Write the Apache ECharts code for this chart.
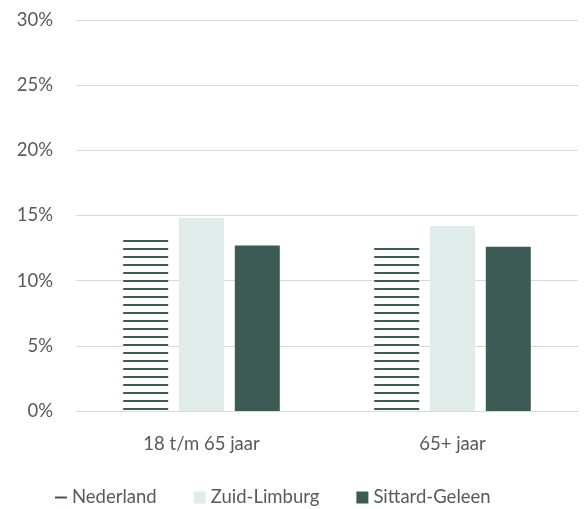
<!DOCTYPE html>
<html>
<head>
<meta charset="utf-8">
<script src="https://cdn.jsdelivr.net/npm/echarts@6/dist/echarts.min.js"></script>
<style>html,body{margin:0;padding:0;background:#fff}#c{width:586px;height:509px}</style>
</head>
<body>
<div id="c"></div>
<script>
const categories = ['18 t/m 65 jaar', '65+ jaar'];
const nederland = [13.2, 12.7];
const zuidLimburg = [14.8, 14.2];
const sittardGeleen = [12.7, 12.6];
const yTicks = [0, 5, 10, 15, 20, 25, 30];

const dark = '#3b5b54';
const light = '#e0ecea';
const textColor = '#595959';
const font = 'Lato';

const pc = document.createElement('canvas');
pc.width = 8; pc.height = 8;
const ctx = pc.getContext('2d');
ctx.fillStyle = '#ffffff'; ctx.fillRect(0, 0, 8, 8);
ctx.fillStyle = dark; ctx.fillRect(0, 0, 8, 2);

const chart = echarts.init(document.getElementById('c'), null, {renderer: 'canvas'});
chart.setOption({
  animation: false,
  textStyle: {fontFamily: font},
  grid: {left: 76, right: 8, top: 20, bottom: 98},
  legend: {
    top: 483,
    left: 50,
    itemGap: 37,
    itemWidth: 12,
    itemHeight: 12,
    textStyle: {color: textColor, fontSize: 18.5, fontFamily: font},
    data: [
      {name: 'Nederland', icon: 'path://M0,5 L12,5 L12,7 L0,7 Z', itemStyle: {color: dark}},
      {name: 'Zuid-Limburg', icon: 'rect'},
      {name: 'Sittard-Geleen', icon: 'rect'}
    ]
  },
  xAxis: {
    type: 'category',
    data: categories,
    axisTick: {show: false},
    axisLine: {lineStyle: {color: '#d9d9d9', width: 1}},
    axisLabel: {color: textColor, fontSize: 18.5, fontFamily: font, margin: 24}
  },
  yAxis: {
    type: 'value',
    min: yTicks[0],
    max: yTicks[yTicks.length - 1],
    interval: 5,
    axisLine: {show: false},
    axisTick: {show: false},
    splitLine: {lineStyle: {color: '#d9d9d9', width: 1}},
    axisLabel: {color: textColor, fontSize: 18.5, fontFamily: font, margin: 23, formatter: v => v + '%'}
  },
  series: [
    {name: 'Nederland', type: 'bar', data: nederland, barWidth: 45, barGap: '24%', barCategoryGap: '37%',
     itemStyle: {color: {image: pc, repeat: 'repeat'}}},
    {name: 'Zuid-Limburg', type: 'bar', data: zuidLimburg, barWidth: 45, itemStyle: {color: light}},
    {name: 'Sittard-Geleen', type: 'bar', data: sittardGeleen, barWidth: 45, itemStyle: {color: dark}}
  ]
});
</script>
</body>
</html>
